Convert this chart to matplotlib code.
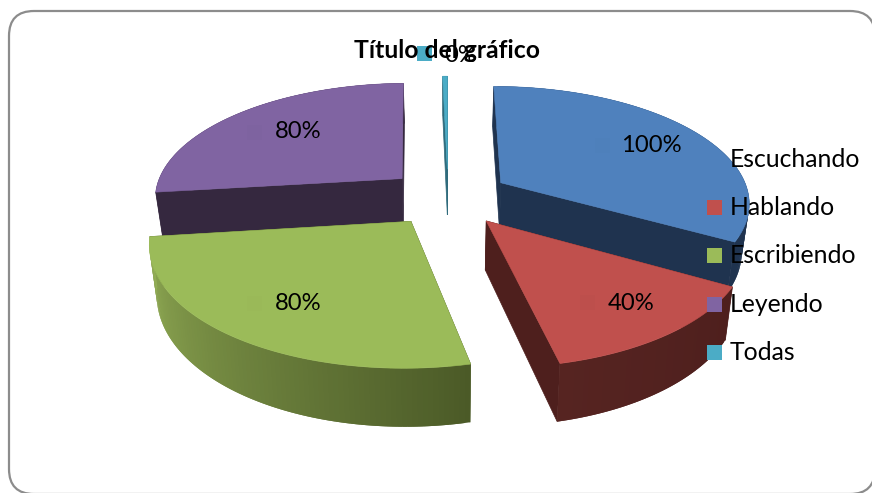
import numpy as np
import matplotlib
matplotlib.use("Agg")
import matplotlib.pyplot as plt
from matplotlib.patches import Polygon, Rectangle, FancyBboxPatch
from matplotlib.colors import to_rgb

# ---- data ----
categories = ["Escuchando", "Hablando", "Escribiendo", "Leyendo", "Todas"]
values = [100, 40, 80, 80, 1.1]
value_labels = ["100%", "40%", "80%", "80%", "0%"]
title = "Título del gráfico"

# ---- styles ----
top_colors = ["#4F81BD", "#C0504D", "#9BBB59", "#8064A2", "#4BACC6"]
key_colors = ["#4E80BB", "#BD4F4C", "#9AB958", "#7E63A0", "#4BACC6"]
face_colors = ["#1F334F", "#4E1F1D", "#4B5A27", "#35283F", "#2F6B7C"]
# wall colour at the start / end of each slice's sweep
wall_start = ["#1F334F", "#4E1F1D", "#4B5A27", "#35283F", "#2F6B7C"]
wall_end = ["#1F334F", "#562421", "#93AE56", "#35283F", "#2F6B7C"]
draw_order = [4, 3, 0, 2, 1]
FONT = "Lato"

# ---- projection of the tilted disc into the figure's pixel axes ----
CX, CY, RX, RY = 448.0, 197.0, 249.0, 115.5
PERSP, EXPLODE, DEPTH, X_SHRINK = 0.156, 0.25, 47.5, 0.975


def project(u, v, drop=False):
    u, v = np.asarray(u, float), np.asarray(v, float)
    g = 1.0 / (1.0 + PERSP * v)
    x = CX + RX * u * g
    y = CY - RY * v * g
    if drop:
        x = CX + (x - CX) * X_SHRINK
        y = y + DEPTH * g
    return x, y


fig = plt.figure(figsize=(8.72, 4.93), dpi=100)
ax = fig.add_axes([0, 0, 1, 1])
ax.set_xlim(0, 872)
ax.set_ylim(493, 0)
ax.axis("off")

ax.add_patch(FancyBboxPatch((9 + 25, 11 + 25), 866 - 50, 483 - 50,
                            boxstyle="round,pad=25,rounding_size=25",
                            fc="white", ec="#8C8C8C", lw=1.6, zorder=0))

sweeps = np.asarray(values, float) / np.sum(values) * 2 * np.pi
starts = np.concatenate([[0], np.cumsum(sweeps)[:-1]])


def pts(x, y):
    return np.column_stack([x, y])


z = 1
for i in draw_order:
    a0, a1 = starts[i], starts[i] + sweeps[i]
    mid = (a0 + a1) / 2
    du, dv = EXPLODE * np.sin(mid), EXPLODE * np.cos(mid)
    n = max(4, int(np.degrees(sweeps[i])) + 1)
    th = np.linspace(a0, a1, n)
    ru, rv = du + np.sin(th), dv + np.cos(th)
    tx, ty = project(ru, rv)
    bx, by = project(ru, rv, drop=True)
    ax_t, ay_t = project(du, dv)
    ax_b, ay_b = project(du, dv, drop=True)

    # radial cut faces
    for k in (0, -1):
        ax.add_patch(Polygon([(ax_t, ay_t), (tx[k], ty[k]), (bx[k], by[k]), (ax_b, ay_b)],
                             closed=True, fc=face_colors[i], ec=face_colors[i],
                             lw=0.5, zorder=z))
    z += 1
    # curved outer wall, shaded along the sweep; each strip overlaps the next
    c0, c1 = np.array(to_rgb(wall_start[i])), np.array(to_rgb(wall_end[i]))
    for k in range(n - 1):
        c = c0 + (c1 - c0) * (k + 0.5) / (n - 1)
        m = min(k + 2, n - 1)
        ax.add_patch(Polygon(np.vstack([pts(tx[k:m + 1], ty[k:m + 1]),
                                        pts(bx[k:m + 1], by[k:m + 1])[::-1]]),
                             closed=True, fc=c, ec="none", lw=0, zorder=z))
        z += 0.001
    z = np.ceil(z)
    # top surface
    ax.add_patch(Polygon(np.vstack([[ax_t, ay_t], pts(tx, ty)]), closed=True,
                         fc=top_colors[i], ec=top_colors[i], lw=0.4, zorder=z))
    z += 1

# ---- layout of the texts ----
LABEL_FS = 17.2
LEGEND_FS = 17.8
label_xy = [(651, 145), (631, 303), (298, 303), (298, 132), (461, 55)]
key_xy = [(595, 138), (580, 295), (247, 296), (247, 125), (417, 46)]
KEY = 14.5

for i, lab in enumerate(value_labels):
    ax.add_patch(Rectangle(key_xy[i], KEY, KEY, fc=key_colors[i], ec="none", zorder=z))
for i, lab in enumerate(value_labels):
    ax.text(*label_xy[i], lab, fontsize=LABEL_FS, family=FONT, color="black",
            ha="center", va="center", zorder=z + 3)

ax.text(447, 50, title, fontsize=17.8, family=FONT, fontweight="bold",
        color="black", ha="center", va="center", zorder=z + 3)

LEG_X, LEG_Y, LEG_STEP = 707, 152, 48.2
for i, cat in enumerate(categories):
    y = LEG_Y + i * LEG_STEP
    ax.add_patch(Rectangle((LEG_X, y), 15, 15, fc=top_colors[i], ec="none", zorder=z + 1))
    ax.text(730, y + 7.5, cat, fontsize=LEGEND_FS, family=FONT, color="black",
            ha="left", va="center", zorder=z + 3)

fig.savefig("out.png", dpi=100)
